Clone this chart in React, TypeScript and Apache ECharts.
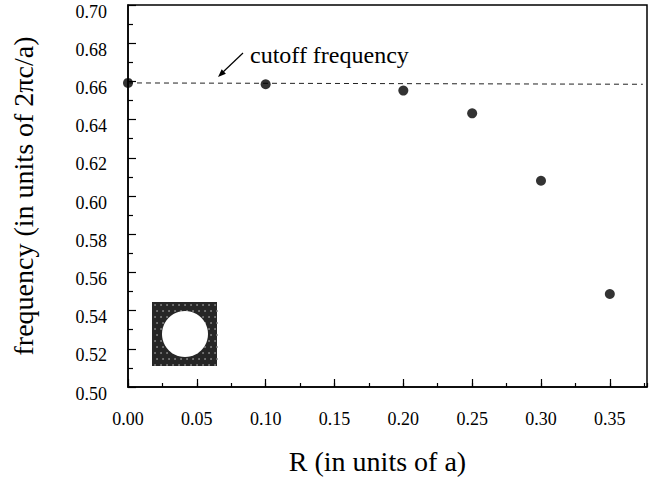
import React, { useEffect, useRef } from "react";
import * as echarts from "echarts";

const radii = [0.0, 0.1, 0.2, 0.25, 0.3, 0.35];
const frequencies = [0.6592, 0.6585, 0.6552, 0.6433, 0.608, 0.5487];
const cutoffX = [0.0, 0.374];
const cutoffY = [0.6592, 0.6585];
const xTitle = "R (in units of a)";
const yTitle = "frequency (in units of 2\u03c0c/a)";
const annotation = "cutoff frequency";

const FONT = "'Liberation Serif', 'Times New Roman', serif";

export default function App() {
  const ref = useRef<HTMLDivElement>(null);
  useEffect(() => {
    if (!ref.current) return;
    const chart = echarts.init(ref.current, undefined, { renderer: "svg" });

    // inset texture
    const texture: any[] = [];
    for (let i = 0; i < 11; i++) {
      for (let j = 0; j < 11; j++) {
        texture.push({
          type: "circle",
          shape: { cx: 155 + i * 6 + (j % 2) * 2, cy: 305 + j * 6, r: 0.9 },
          style: { fill: "#8a8a8a" },
          z: 101,
        });
      }
    }

    const option: any = {
      animation: false,
      backgroundColor: "#fff",
      grid: {
        left: 128,
        top: 5,
        right: 11,
        bottom: 98,
        show: true,
        borderColor: "#000",
        borderWidth: 1.5,
      },
      xAxis: [
        {
          type: "value",
          min: 0,
          max: 0.377,
          interval: 0.05,
          name: xTitle,
          nameLocation: "middle",
          nameGap: 60,
          nameTextStyle: {
            fontFamily: FONT,
            fontSize: 28,
            color: "#000",
            padding: [0, 20, 0, 0],
          },
          axisLine: { show: true, lineStyle: { color: "#000", width: 1.5 } },
          axisTick: { show: true, inside: true, length: 8, lineStyle: { color: "#000", width: 1.2 } },
          axisLabel: {
            fontFamily: FONT,
            fontSize: 18,
            color: "#000",
            margin: 23,
            showMaxLabel: false,
            formatter: (v: number) => v.toFixed(2),
          },
          splitLine: { show: false },
        },
        {
          type: "value",
          min: 0,
          max: 0.377,
          interval: 0.025,
          position: "bottom",
          axisLine: { show: false },
          axisTick: { show: true, inside: true, length: 4, lineStyle: { color: "#000", width: 1.2 } },
          axisLabel: { show: false },
          splitLine: { show: false },
        },
      ],
      yAxis: {
        type: "value",
        min: 0.5,
        max: 0.7,
        interval: 0.02,
        name: yTitle,
        nameLocation: "middle",
        nameGap: 91,
        nameRotate: 90,
        nameTextStyle: { fontFamily: FONT, fontSize: 28, color: "#000" },
        axisLine: { show: true, lineStyle: { color: "#000", width: 1.5 } },
        axisTick: { show: true, inside: true, length: 8, lineStyle: { color: "#000", width: 1.2 } },
        minorTick: { show: true, splitNumber: 2, length: 5, lineStyle: { color: "#000", width: 1.2 } },
        axisLabel: {
          margin: 21,
          fontFamily: FONT,
          fontSize: 18,
          color: "#000",
          verticalAlign: "top",
          lineHeight: 13,
          formatter: (v: number) => v.toFixed(2),
        },
        splitLine: { show: false },
      },
      series: [
        {
          type: "line",
          data: cutoffX.map((x, i) => [x, cutoffY[i]]),
          showSymbol: false,
          symbol: "none",
          lineStyle: { color: "#222", width: 1, type: [5, 4] },
          z: 2,
        },
        {
          type: "scatter",
          data: radii.map((x, i) => [x, frequencies[i]]),
          symbol: "circle",
          symbolSize: 10,
          itemStyle: { color: "#000" },
          z: 3,
        },
      ],
      graphic: [
        {
          type: "line",
          shape: { x1: 243, y1: 53, x2: 222, y2: 73 },
          style: { stroke: "#000", lineWidth: 1.2 },
        },
        {
          type: "polygon",
          shape: { points: [[218, 77], [225.9, 73.7], [221.7, 69.3]] },
          style: { fill: "#000" },
        },
        {
          type: "text",
          x: 250,
          y: 55,
          style: {
            text: annotation,
            fontFamily: FONT,
            fontSize: 24,
            fill: "#000",
            verticalAlign: "middle",
            align: "left",
          },
        },
        {
          type: "rect",
          shape: { x: 152, y: 302, width: 65, height: 64 },
          style: { fill: "#262626" },
          z: 100,
        },
        ...texture,
        {
          type: "circle",
          shape: { cx: 185, cy: 334, r: 23 },
          style: { fill: "#fff" },
          z: 102,
        },
      ],
    };
    chart.setOption(option);
    return () => chart.dispose();
  }, []);
  return (
    <div
      ref={ref}
      style={{ position: "fixed", left: 0, top: 0, width: 658, height: 485 }}
    />
  );
}
